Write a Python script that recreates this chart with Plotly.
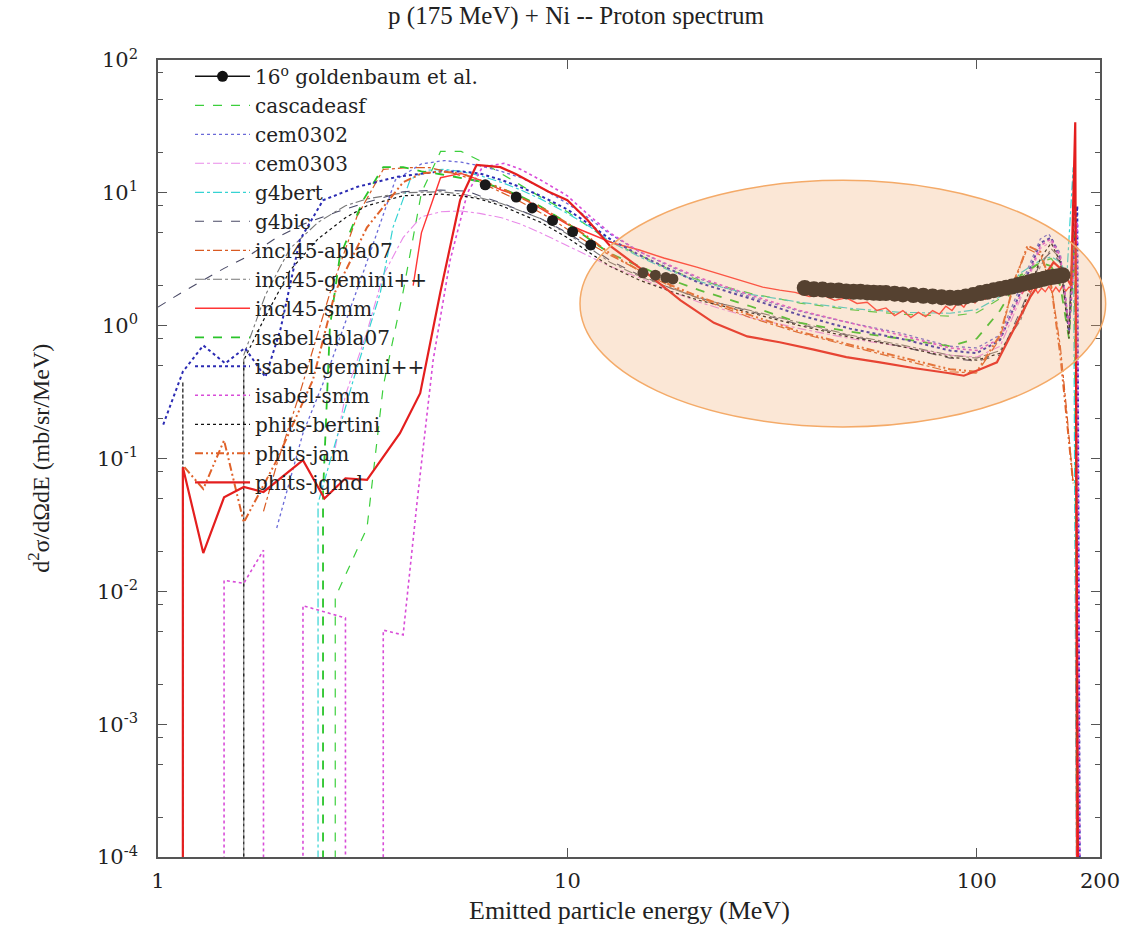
import math
import plotly.graph_objects as go

Z = 1e-7  # empty bin (zero cross-section)

# ---------------- experimental data: 16 deg, Goldenbaum et al. ----------------
exp_e_low = [6.3, 7.5, 8.2, 9.2, 10.3, 11.4, 15.3, 16.4, 17.4, 18.1]
exp_v_low = [11.5, 9.3, 7.7, 6.2, 5.1, 4.05, 2.5, 2.4, 2.3, 2.25]
exp_e_high = [38, 40, 42, 44, 46, 48, 50, 52, 54, 56, 58, 60, 63, 66, 70, 74, 78, 82, 86, 90,
              94, 98, 102, 106, 110, 114, 118, 122, 126, 130, 134, 138, 142, 146, 150, 154, 158, 162]
exp_v_high = [1.92, 1.88, 1.87, 1.84, 1.84, 1.81, 1.80, 1.80, 1.78, 1.77, 1.76, 1.76, 1.74, 1.72, 1.70, 1.68,
              1.66, 1.64, 1.62, 1.62, 1.66, 1.70, 1.76, 1.80, 1.85, 1.89, 1.93, 1.97, 2.02, 2.07, 2.12, 2.17,
              2.21, 2.26, 2.30, 2.33, 2.36, 2.40]

# ---------------- model calculations ----------------
cascadeasf_e = [2.71, 2.71, 3.24, 3.55, 3.97, 4.4, 4.9, 5.5, 6.1, 6.9, 7.7, 8.6, 10, 11.4, 12.7, 15, 18, 21, 28, 37,
                49, 65, 86, 100, 114, 128, 143, 152, 160, 168, 173, 177]
cascadeasf_v = [Z, 0.009, 0.03, 0.35, 1.8, 10, 20.5, 20.5, 17.5, 14, 11.5, 9.3, 7.2, 5.4, 4.3, 3.4, 2.6, 2.2, 1.75, 1.48,
                1.32, 1.22, 1.18, 1.25, 1.6, 2.3, 3.0, 3.2, 2.6, 1.0, 9, Z]

cem0302_e = [1.95, 2.26, 2.59, 3.17, 3.8, 4.4, 5.0, 5.5, 6.1, 6.9, 7.7, 8.6, 10, 11.4, 12.7, 15, 18, 21, 28, 37,
             49, 65, 86, 100, 114, 128, 143, 150, 160, 168, 174, 179]
cem0302_v = [0.03, 0.155, 0.44, 2.5, 12.5, 16.5, 17.5, 17, 16, 14.5, 13, 11, 8.3, 6.3, 4.9, 3.6, 2.75, 2.25, 1.65, 1.28,
             1.05, 0.88, 0.7, 0.68, 0.85, 2.0, 4.5, 4.9, 3.5, 1.0, 12, Z]

cem0303_e = [2.71, 2.87, 3.24, 3.55, 3.97, 4.4, 4.9, 5.5, 6.1, 6.9, 7.7, 8.6, 10, 11.4, 12.7, 15, 18, 21, 28,
             37, 49, 65, 86, 100, 114, 128, 143, 152, 160, 168, 174, 178]
cem0303_v = [0.12, 0.3, 0.9, 2.4, 4.6, 6.6, 7.2, 7.3, 7.0, 6.5, 5.8, 5.0, 4.0, 3.3, 2.8, 2.3, 1.8, 1.5, 1.15,
             0.95, 0.8, 0.7, 0.6, 0.58, 0.7, 1.6, 3.8, 4.3, 3.0, 0.9, 10, Z]

g4bert_e = [2.46, 2.46, 3.0, 3.49, 3.75, 4.13, 4.55, 5.0, 5.5, 6.1, 6.9, 7.7, 8.6, 10, 11.4, 12.7, 15, 18, 21, 28, 37,
            49, 65, 86, 100, 114, 128, 143, 152, 160, 166, 172, 177]
g4bert_v = [Z, 0.046, 0.39, 1.76, 5.5, 12.6, 14.8, 15, 14.5, 13.5, 12, 10.5, 9.0, 7.0, 5.5, 4.3, 3.3, 2.55, 2.15, 1.72, 1.5,
            1.35, 1.26, 1.24, 1.32, 1.65, 2.5, 3.1, 3.3, 3.0, 2.4, 15.6, Z]

g4bic_e = [1.0, 1.15, 1.29, 1.45, 1.65, 1.95, 2.26, 2.74, 3.24, 3.97, 4.9, 5.7, 6.1, 6.9, 8.6, 10, 11.4, 12.7, 15, 18,
           21, 28, 37, 49, 65, 86, 100, 114, 128, 143, 152, 160, 168, 174, 178]
g4bic_v = [1.38, 1.8, 2.2, 2.7, 3.3, 4.6, 5.8, 7.2, 8.5, 10.2, 10.5, 10.3, 9.5, 8.4, 6.4, 5.0, 3.9, 3.1, 2.4, 1.9,
           1.62, 1.28, 1.02, 0.84, 0.7, 0.57, 0.54, 0.6, 1.3, 3.0, 3.6, 3.0, 1.0, 10, Z]

incl45_abla07_e = [1.81, 1.95, 2.22, 2.63, 3.06, 3.55, 4.1, 4.6, 5.2, 5.8, 6.5, 7.4, 8.2, 9.2, 10.3, 11.4, 12.7,
                   15, 18, 21, 28, 37, 49, 65, 86, 100, 114, 124, 133, 143, 152, 160, 166, 172]
incl45_abla07_v = [0.04, 0.09, 0.31, 1.76, 6.6, 15, 15.5, 15.5, 14.2, 12.8, 11, 9.1, 7.7, 6.3, 5.0, 4.1, 3.4,
                   2.6, 1.95, 1.6, 1.15, 0.88, 0.7, 0.56, 0.45, 0.44, 0.8, 2.3, 3.8, 3.4, 2.0, 0.7, 0.22, 0.065]

incl45_gemini_e = [1.62, 1.62, 1.83, 2.1, 2.46, 2.87, 3.24, 3.97, 4.9, 5.5, 6.1, 6.9, 8.6, 10, 11.4, 12.7, 15, 18, 21,
                   28, 37, 49, 65, 86, 100, 114, 128, 143, 152, 160, 168, 174, 178]
incl45_gemini_v = [Z, 0.6, 1.7, 3.8, 6, 8, 9, 10, 10.2, 9.8, 9.2, 8.3, 6.4, 4.9, 3.8, 3.0, 2.35, 1.9, 1.6,
                   1.3, 1.05, 0.85, 0.72, 0.6, 0.57, 0.65, 1.1, 2.8, 3.8, 3.2, 1.0, 12, Z]

incl45_smm_e = [4.2, 4.4, 4.9, 5.5, 6.1, 6.9, 7.7, 8.6, 10, 10.8, 12.9, 15, 17.2, 20.7, 25, 30, 33,
                36, 39, 42, 45, 48, 51, 54, 57, 60, 63, 66, 69, 72, 75, 78, 81, 84, 87, 90, 93,
                96, 99, 102, 105, 108, 111, 114, 117, 120, 123, 126, 129, 132, 135, 138, 141, 144, 147, 150, 153,
                156, 159, 162, 165, 168, 171, 174, 176]
incl45_smm_v = [2.0, 5, 13, 14, 12.5, 10.5, 9.3, 7.6, 5.8, 5.25, 4.19, 3.71, 3.23, 2.76, 2.32, 1.95, 1.85,
                1.78, 1.66, 1.70, 1.55, 1.62, 1.47, 1.50, 1.30, 1.36, 1.19, 1.30, 1.15, 1.26, 1.17, 1.30, 1.22, 1.40, 1.30, 1.50, 1.38,
                1.60, 1.48, 1.70, 1.58, 1.80, 1.66, 1.86, 1.72, 1.92, 1.78, 1.95, 1.75, 1.93, 1.78, 1.96, 1.76, 1.92, 1.80, 1.98, 1.78,
                1.95, 1.80, 2.0, 1.82, 1.95, 1.9, 30, Z]

isabel_abla07_e = [2.53, 2.53, 2.63, 2.78, 3.17, 3.55, 3.97, 4.4, 4.9, 5.5, 6.1, 6.9, 7.7, 8.6, 10, 11.4, 12.7, 15, 18,
                   21, 28, 37, 49, 65, 86, 100, 114, 128, 143, 152, 160, 168, 174, 178]
isabel_abla07_v = [Z, 0.055, 0.98, 3.3, 8.8, 15.6, 15.6, 14.5, 13.8, 13, 12.2, 10.8, 9.4, 7.9, 5.9, 4.4, 3.5, 2.8, 2.2,
                   1.85, 1.4, 1.05, 0.9, 0.8, 0.7, 0.8, 1.3, 2.4, 3.0, 2.8, 2.0, 0.8, 5, Z]

isabel_gemini_e = [1.03, 1.15, 1.29, 1.46, 1.63, 1.83, 1.99, 2.22, 2.53, 3.07, 3.84, 4.4, 4.9, 5.5, 6.1, 6.9, 7.7, 8.6,
                   10, 11.4, 12.7, 15, 18, 21, 28, 37, 49, 65, 86, 100, 114, 128, 143, 152, 160, 168, 176, 180]
isabel_gemini_v = [0.18, 0.45, 0.71, 0.52, 0.68, 0.41, 0.93, 4.4, 8.8, 11.1, 13.2, 14, 14.5, 14.5, 14, 12.5, 11, 9.5,
                   7.5, 5.7, 4.5, 3.4, 2.6, 2.1, 1.6, 1.2, 0.95, 0.8, 0.65, 0.62, 0.78, 1.8, 4.2, 4.6, 3.2, 0.9, 8, Z]

isabel_smm_e = [1.45, 1.45, 1.62, 1.81, 1.81, 2.26, 2.26, 2.87, 2.87, 3.55, 3.55, 3.97, 4.3, 4.7, 5.17, 5.7, 6.2, 7.0,
                7.7, 8.6, 10, 11.4, 12.7, 15, 18, 21, 28, 37, 49, 65, 86, 100, 114, 128, 143, 152, 160, 168, 176, 180]
isabel_smm_v = [Z, 0.0121, 0.0115, 0.0204, Z, Z, 0.0078, 0.0063, Z, Z, 0.0051, 0.0047, 0.049, 0.55, 3.1, 10, 15.6, 16.7,
                15, 12.5, 9.5, 6.6, 5.0, 3.6, 2.8, 2.3, 1.7, 1.3, 1.05, 0.85, 0.68, 0.65, 0.8, 1.7, 4.0, 4.5, 3.3, 1.0, 6, Z]

phits_bertini_e = [1.15, 1.15, 1.15, 1.62, 1.62, 1.81, 2.1, 2.46, 2.87, 3.24, 3.97, 4.9, 5.5, 6.1, 6.9, 8.6, 10, 11.4,
                   12.7, 15, 18, 21, 28, 37, 49, 65, 86, 100, 114, 128, 143, 152, 160, 168, 174, 178]
phits_bertini_v = [Z, 0.38, Z, Z, 0.55, 1.1, 2.6, 4.5, 6.5, 8, 9.5, 9.8, 9.5, 9.0, 8.0, 6.0, 4.6, 3.5,
                   2.8, 2.2, 1.8, 1.55, 1.25, 1.0, 0.82, 0.7, 0.58, 0.55, 0.62, 1.2, 3.2, 4.2, 3.0, 0.8, 18, Z]

phits_jam_e = [1.16, 1.29, 1.45, 1.62, 1.95, 2.39, 2.71, 3.24, 3.97, 4.4, 4.9, 5.5, 6.1, 6.9, 7.7, 8.6, 10, 11.4, 12.7,
               15, 18, 21, 28, 37, 49, 65, 86, 100, 114, 124, 133, 143, 152, 160, 166, 172]
phits_jam_v = [0.086, 0.059, 0.137, 0.033, 0.097, 0.39, 1.8, 5.5, 12, 14, 14.5, 14, 12.5, 10.8, 9.2, 7.8, 5.9, 4.5, 3.5,
               2.6, 2.0, 1.65, 1.2, 0.9, 0.72, 0.58, 0.47, 0.45, 0.85, 2.2, 4.0, 3.6, 2.0, 0.6, 0.2, 0.065]

phits_jqmd_e = [1.15, 1.15, 1.29, 1.45, 1.62, 1.81, 2.26, 2.55, 2.87, 3.24, 3.9, 4.37, 4.89, 5.47, 6.0, 6.86, 7.5, 8.26,
                9.0, 10, 11.2, 12.7, 15.6, 18.9, 22.8, 27.5, 33, 40, 48, 58, 70, 85, 93, 102, 112, 123, 135, 148, 154,
                162, 170, 174, 178]
phits_jqmd_v = [Z, 0.086, 0.0194, 0.051, 0.061, 0.056, 0.097, 0.050, 0.071, 0.069, 0.155, 0.31, 1.76, 8.8, 16.2, 15.6,
                13.8, 11.8, 10.2, 8.8, 6.25, 4.0, 2.5, 1.55, 1.05, 0.83, 0.75, 0.66, 0.58, 0.53, 0.48, 0.44, 0.42, 0.47,
                0.53, 0.93, 1.64, 2.5, 3.0, 2.6, 2.0, 34, Z]

models = [
    ("cascadeasf", cascadeasf_e, cascadeasf_v),
    ("cem0302", cem0302_e, cem0302_v),
    ("cem0303", cem0303_e, cem0303_v),
    ("g4bert", g4bert_e, g4bert_v),
    ("g4bic", g4bic_e, g4bic_v),
    ("incl45-abla07", incl45_abla07_e, incl45_abla07_v),
    ("incl45-gemini++", incl45_gemini_e, incl45_gemini_v),
    ("incl45-smm", incl45_smm_e, incl45_smm_v),
    ("isabel-abla07", isabel_abla07_e, isabel_abla07_v),
    ("isabel-gemini++", isabel_gemini_e, isabel_gemini_v),
    ("isabel-smm", isabel_smm_e, isabel_smm_v),
    ("phits-bertini", phits_bertini_e, phits_bertini_v),
    ("phits-jam", phits_jam_e, phits_jam_v),
    ("phits-jqmd", phits_jqmd_e, phits_jqmd_v),
]

# line styles (color, width, dash)
styles = {
    "cascadeasf": ("#3ccf3c", 1.2, "dash"),
    "cem0302": ("#6a6ad8", 1.3, "dot"),
    "cem0303": ("#e98ae9", 1.1, "dashdot"),
    "g4bert": ("#35d3d3", 1.2, "dashdot"),
    "g4bic": ("#4a4a66", 1.1, "dash"),
    "incl45-abla07": ("#d95a22", 1.2, "dashdot"),
    "incl45-gemini++": ("#777777", 1.1, "dashdot"),
    "incl45-smm": ("#ff3535", 1.4, "solid"),
    "isabel-abla07": ("#2ac42a", 1.8, "dash"),
    "isabel-gemini++": ("#2b2bb3", 2.0, "dot"),
    "isabel-smm": ("#d84cd8", 1.6, "dot"),
    "phits-bertini": ("#111111", 1.2, "dot"),
    "phits-jam": ("#e0622a", 2.0, "8px,3px,2px,3px,2px,3px"),
    "phits-jqmd": ("#e41e1e", 2.2, "solid"),
}

fig = go.Figure()

for rank, (name, e, v) in enumerate(models, start=2):
    col, w, dash = styles[name]
    fig.add_trace(go.Scatter(x=e, y=v, mode="lines", name=name, legendrank=rank,
                             line=dict(color=col, width=w, dash=dash)))

exp_name = "16<sup>o</sup> goldenbaum et al."
fig.add_trace(go.Scatter(x=exp_e_low, y=exp_v_low, mode="markers", showlegend=False,
                         marker=dict(color="#1a1a1a", size=11),
                         error_y=dict(type="percent", value=6, thickness=1, width=4, color="#1a1a1a")))
fig.add_trace(go.Scatter(x=exp_e_high, y=exp_v_high, mode="markers", showlegend=False,
                         marker=dict(color="#1a1a1a", size=16)))
# legend entry for the data
fig.add_trace(go.Scatter(x=[None], y=[None], mode="lines+markers", name=exp_name, legendrank=1,
                         marker=dict(color="#111", size=11), line=dict(color="#111", width=1.5)))

serif = "DejaVu Serif"
times = "Liberation Serif"

ytick_vals = [1e-4, 1e-3, 1e-2, 1e-1, 1, 10, 100]
ytick_text = ["10<sup>-4</sup>", "10<sup>-3</sup>", "10<sup>-2</sup>", "10<sup>-1</sup>",
              "10<sup>0</sup>", "10<sup>1</sup>", "10<sup>2</sup>"]
xtick_vals = [1, 10, 100, 200]
xtick_text = ["1", "10", "100", "200"]
minor_y = [m * 10 ** k for k in range(-4, 2) for m in (2, 5, 8)]

axis_common = dict(showline=True, linecolor="#555", linewidth=1.5, mirror="ticks", ticks="inside",
                   tickcolor="#555", showgrid=False, zeroline=False)

fig.update_layout(
    width=1135, height=927,
    margin=dict(l=158, r=35, t=60, b=70),
    paper_bgcolor="white", plot_bgcolor="white",
    title=dict(text="p (175 MeV) + Ni -- Proton spectrum", x=576 / 1135, xanchor="center",
               y=1 - 15 / 927, yanchor="middle", xref="container", yref="container",
               font=dict(family=times, size=25, color="#222")),
    xaxis=dict(type="log", range=[0, math.log10(200)], tickvals=xtick_vals, ticktext=xtick_text,
               ticklen=9, tickfont=dict(family=serif, size=21, color="#222"), ticklabelstandoff=4,
               **axis_common),
    yaxis=dict(type="log", range=[-4, 2], tickvals=ytick_vals, ticktext=ytick_text,
               ticklen=9, tickfont=dict(family=serif, size=21, color="#222"), ticklabelstandoff=14,
               minor=dict(tickvals=minor_y, ticks="inside", ticklen=5, tickcolor="#555", showgrid=False),
               **axis_common),
    legend=dict(x=0.034, y=1.004, xanchor="left", yanchor="top", bgcolor="rgba(0,0,0,0)",
                font=dict(family=serif, size=20, color="#222"), itemwidth=55, tracegroupgap=0,
                traceorder="normal"),
    annotations=[
        dict(text="Emitted particle energy (MeV)", xref="paper", yref="paper", x=0.5, y=-0.0875,
             xanchor="center", yanchor="bottom", showarrow=False,
             font=dict(family=times, size=26, color="#222")),
        dict(text="d<sup>2</sup>σ/dΩdE (mb/sr/MeV)", xref="paper", yref="paper", x=-0.127, y=0.5,
             xanchor="center", yanchor="middle", textangle=-90, showarrow=False,
             font=dict(family=times, size=24, color="#222")),
    ],
    shapes=[
        dict(type="circle", xref="paper", yref="paper", x0=0.448, x1=1.006, y0=0.5395, y1=0.849,
             layer="above", fillcolor="rgba(240,168,108,0.28)", line=dict(color="#f4aa68", width=1.5)),
    ],
)

fig.write_html("out.html")
